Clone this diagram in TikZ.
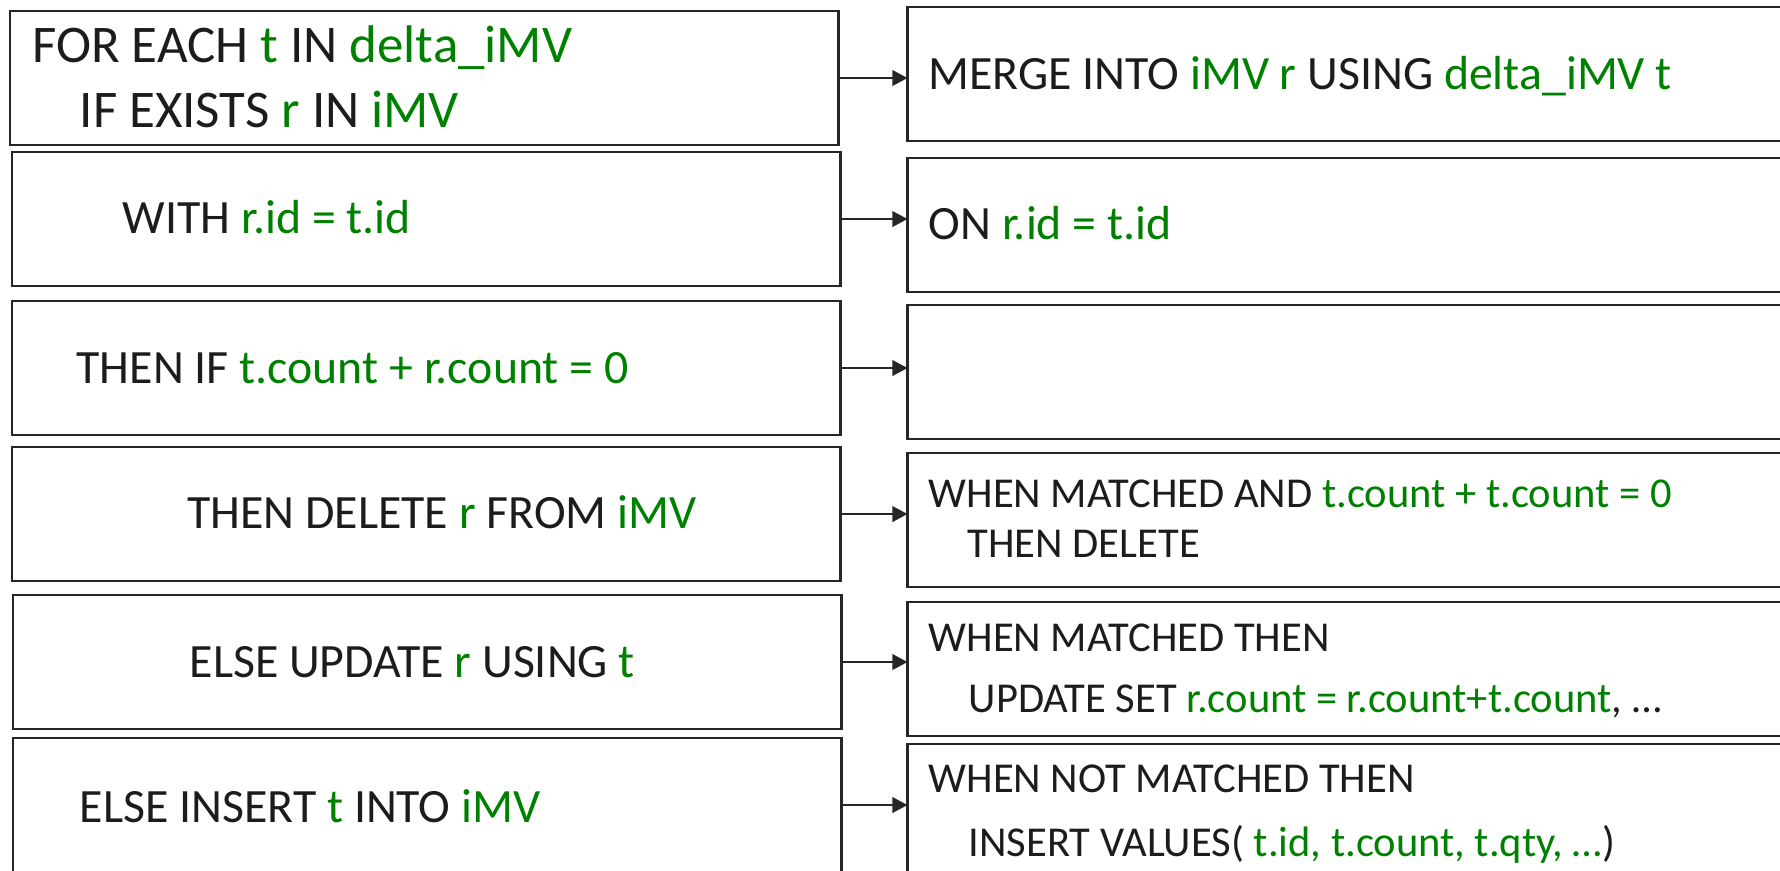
\documentclass[tikz,border=0pt]{standalone}
\usepackage{xcolor}
\usepackage{fontspec}
\setmainfont{Carlito}
\usepackage{tikz}
\usetikzlibrary{arrows.meta}

\definecolor{sqlgreen}{HTML}{008000}
\definecolor{sqlblack}{HTML}{1C1C1C}
\definecolor{sqlline}{HTML}{262626}
\newcommand{\grn}[1]{\textcolor{sqlgreen}{#1}}

\begin{document}
\begin{tikzpicture}[x=0.01cm,y=-0.01cm,>={Triangle[length=4.3pt,width=4.4pt]},
   bx/.style={draw=sqlline,line width=0.7pt,inner sep=0pt,outer sep=0pt,anchor=north west,minimum height=1.34cm},
   lbx/.style={bx,minimum width=8.28cm},
   rbx/.style={bx,minimum width=9.2cm},
   tx/.style={anchor=base west,inner sep=0pt,text=sqlblack},
   big/.style={tx,font=\fontsize{15.05}{17}\selectfont},
   mid/.style={tx,font=\fontsize{13.6}{15}\selectfont},
   sml/.style={tx,font=\fontsize{12.1}{13}\selectfont}]
  \useasboundingbox (0,0) rectangle (1780,871);
  \clip (0,0) rectangle (1780,871);
  % left column: procedural form
  \node[lbx] (l1) at (10,11)  {};
  \node[lbx] (l2) at (12,152) {};
  \node[lbx] (l3) at (12,301) {};
  \node[lbx] (l4) at (12,447) {};
  \node[lbx] (l5) at (13,595) {};
  \node[lbx] (l6) at (13,738) {};
  % right column: MERGE statement
  \node[rbx] (r1) at (907.5,7)   {};
  \node[rbx] (r2) at (907.5,158) {};
  \node[rbx] (r3) at (907.5,305) {};
  \node[rbx] (r4) at (907.5,453) {};
  \node[rbx] (r5) at (907.5,602) {};
  \node[rbx] (r6) at (907.5,744) {};
  % texts
  \node[big] (t1a) at (31.6,63) {FOR EACH \grn{t} IN \grn{delta\_iMV}};
  \node[big] (t1b) at (79,128)  {IF EXISTS \grn{r} IN \grn{iMV}};
  \node[mid] (t2)  at (122,234) {WITH \grn{r.id = t.id}};
  \node[mid] (t3)  at (76,384)  {THEN IF \grn{t.count + r.count = 0}};
  \node[mid] (t4)  at (186.6,529) {THEN DELETE \grn{r} FROM \grn{iMV}};
  \node[mid] (t5)  at (189,678) {ELSE UPDATE \grn{r} USING \grn{t}};
  \node[mid] (t6)  at (79,822)  {ELSE INSERT \grn{t} INTO \grn{iMV}};
  \node[mid] (s1)  at (928,90)  {MERGE INTO \grn{iMV r} USING \grn{delta\_iMV t}};
  \node[mid] (s2)  at (928,240) {ON \grn{r.id = t.id}};
  \node[sml] (s4a) at (928,508) {WHEN MATCHED AND \grn{t.count + t.count = 0}};
  \node[sml] (s4b) at (967,558) {THEN DELETE};
  \node[sml] (s5a) at (928,651.7) {WHEN MATCHED THEN};
  \node[sml] (s5b) at (968,712.7) {UPDATE SET \grn{r.count = r.count+t.count}, …};
  \node[sml] (s6a) at (928,793) {WHEN NOT MATCHED THEN};
  \node[sml] (s6b) at (968,856) {INSERT VALUES( \grn{t.id, t.count, t.qty, …})};
  % arrows
  \foreach \i in {1,...,6}
    \draw[->,sqlline,line width=0.7pt] (l\i.east) -- (l\i.east -| r\i.west);
\end{tikzpicture}
\end{document}
